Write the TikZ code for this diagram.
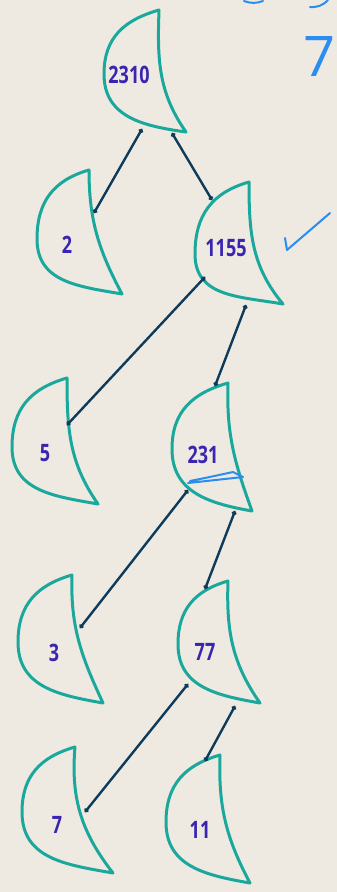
\documentclass[tikz,border=0pt]{standalone}
\usepackage{fontspec}
\setmainfont{Open Sans}
\usepackage{xcolor}
\usepackage{tikz}
\usetikzlibrary{arrows.meta}

\definecolor{paper}{HTML}{EEEAE1}
\definecolor{moonteal}{HTML}{1BA89C}
\definecolor{inkblue}{HTML}{0E3B5C}
\definecolor{digitink}{HTML}{3A25B0}
\definecolor{penblue}{HTML}{2B8CF2}
\newcommand\numfont{\fontsize{24}{24}\selectfont\bfseries}

\begin{document}
\begin{tikzpicture}[
  x=1pt, y=1pt,
  moon/.style={draw=moonteal, line width=3pt, line join=round, fill=paper},
  rim/.style={looseness=1.1},
  num/.style={text=digitink, font=\numfont, inner sep=0pt, xscale=0.75, transform shape},
  branch/.style={draw=inkblue, line width=2.4pt, {Circle[length=4.5pt]}-{Circle[length=4.5pt]}},
  pen/.style={draw=penblue, line width=2pt, line cap=round, line join=round},
]
\fill[paper] (0,0) rectangle (337,-892);
\useasboundingbox (0,0) rectangle (337,-892);

% ---------- half moons ----------
\draw[moon] (159,-10) to[rim,out=196,in=90] (104,-74) to[rim,out=-90,in=172] (186,-132) to[out=125,in=-92] (159,-10) -- cycle;
\node[num] (n2310) at (129,-75) {2310};
\draw[moon] (89,-170) to[rim,out=196,in=90] (37,-239) to[rim,out=-90,in=170] (122,-294) to[out=118,in=-90] (89,-170) -- cycle;
\node[num] (n2) at (67,-245) {2};
\draw[moon] (249,-182) to[rim,out=196,in=90] (195,-254) to[rim,out=-90,in=170] (283,-304) to[out=130,in=-90] (249,-182) -- cycle;
\node[num] (n1155) at (226,-248) {1155};
\draw[moon] (67,-378) to[rim,out=196,in=90] (12,-447) to[rim,out=-90,in=170] (98,-504) to[out=125,in=-90] (67,-378) -- cycle;
\node[num] (n5) at (45,-453) {5};
\draw[moon] (228,-383) to[rim,out=196,in=90] (172,-449) to[rim,out=-90,in=170] (252,-511) to[out=110,in=-92] (228,-383) -- cycle;
\node[num] (n231) at (203,-455) {231};
\draw[moon] (72,-575) to[rim,out=196,in=90] (18,-642) to[rim,out=-90,in=170] (103,-703) to[out=115,in=-92] (72,-575) -- cycle;
\node[num] (n3) at (54,-653) {3};
\draw[moon] (228,-581) to[rim,out=196,in=90] (178,-644) to[rim,out=-90,in=170] (260,-703) to[out=125,in=-92] (228,-581) -- cycle;
\node[num] (n77) at (205,-652) {77};
\draw[moon] (75,-747) to[rim,out=196,in=90] (22,-812) to[rim,out=-90,in=170] (113,-873) to[out=128,in=-95] (75,-747) -- cycle;
\node[num] (n7) at (57,-825) {7};
\draw[moon] (220,-755) to[rim,out=196,in=90] (166,-822) to[rim,out=-90,in=170] (250,-883) to[out=118,in=-92] (220,-755) -- cycle;
\node[num] (n11) at (200,-830) {11};

% ---------- branch ends on the rims ----------
\coordinate (n2310-l) at (142,-129);
\coordinate (n2310-r) at (172,-133);
\coordinate (n2-in) at (94,-213);
\coordinate (n1155-top) at (212,-200);
\coordinate (n1155-l) at (205,-277);
\coordinate (n1155-r) at (246,-305);
\coordinate (n5-in) at (67,-425);
\coordinate (n231-top) at (215,-386);
\coordinate (n231-l) at (188,-490);
\coordinate (n231-r) at (235,-511);
\coordinate (n3-in) at (80,-628);
\coordinate (n77-top) at (205,-589);
\coordinate (n77-l) at (188,-684);
\coordinate (n77-r) at (235,-706);
\coordinate (n7-in) at (85,-812);
\coordinate (n11-top) at (205,-761);

% ---------- branches ----------
\draw[branch] (n2310-l) -- (n2-in);
\draw[branch] (n2310-r) -- (n1155-top);
\draw[branch] (n1155-l) -- (n5-in);
\draw[branch] (n1155-r) -- (n231-top);
\draw[branch] (n231-l) -- (n3-in);
\draw[branch] (n231-r) -- (n77-top);
\draw[branch] (n77-l) -- (n7-in);
\draw[branch] (n77-r) -- (n11-top);

% ---------- pen marks ----------
\draw[pen] (285,-238) -- (287,-250) -- (330,-213);
\draw[pen] (188,-483) -- (243,-477) -- (233,-472) -- (205,-478) -- (190,-481);
\draw[pen] (244,-1) to[bend right=20] (263,-1);
\draw[pen] (310,-7) to[bend right=25] (328,0);
\node[text=penblue, font=\fontsize{56}{56}\selectfont, inner sep=0pt] (mark7) at (320,-57) {7};
\end{tikzpicture}
\end{document}
